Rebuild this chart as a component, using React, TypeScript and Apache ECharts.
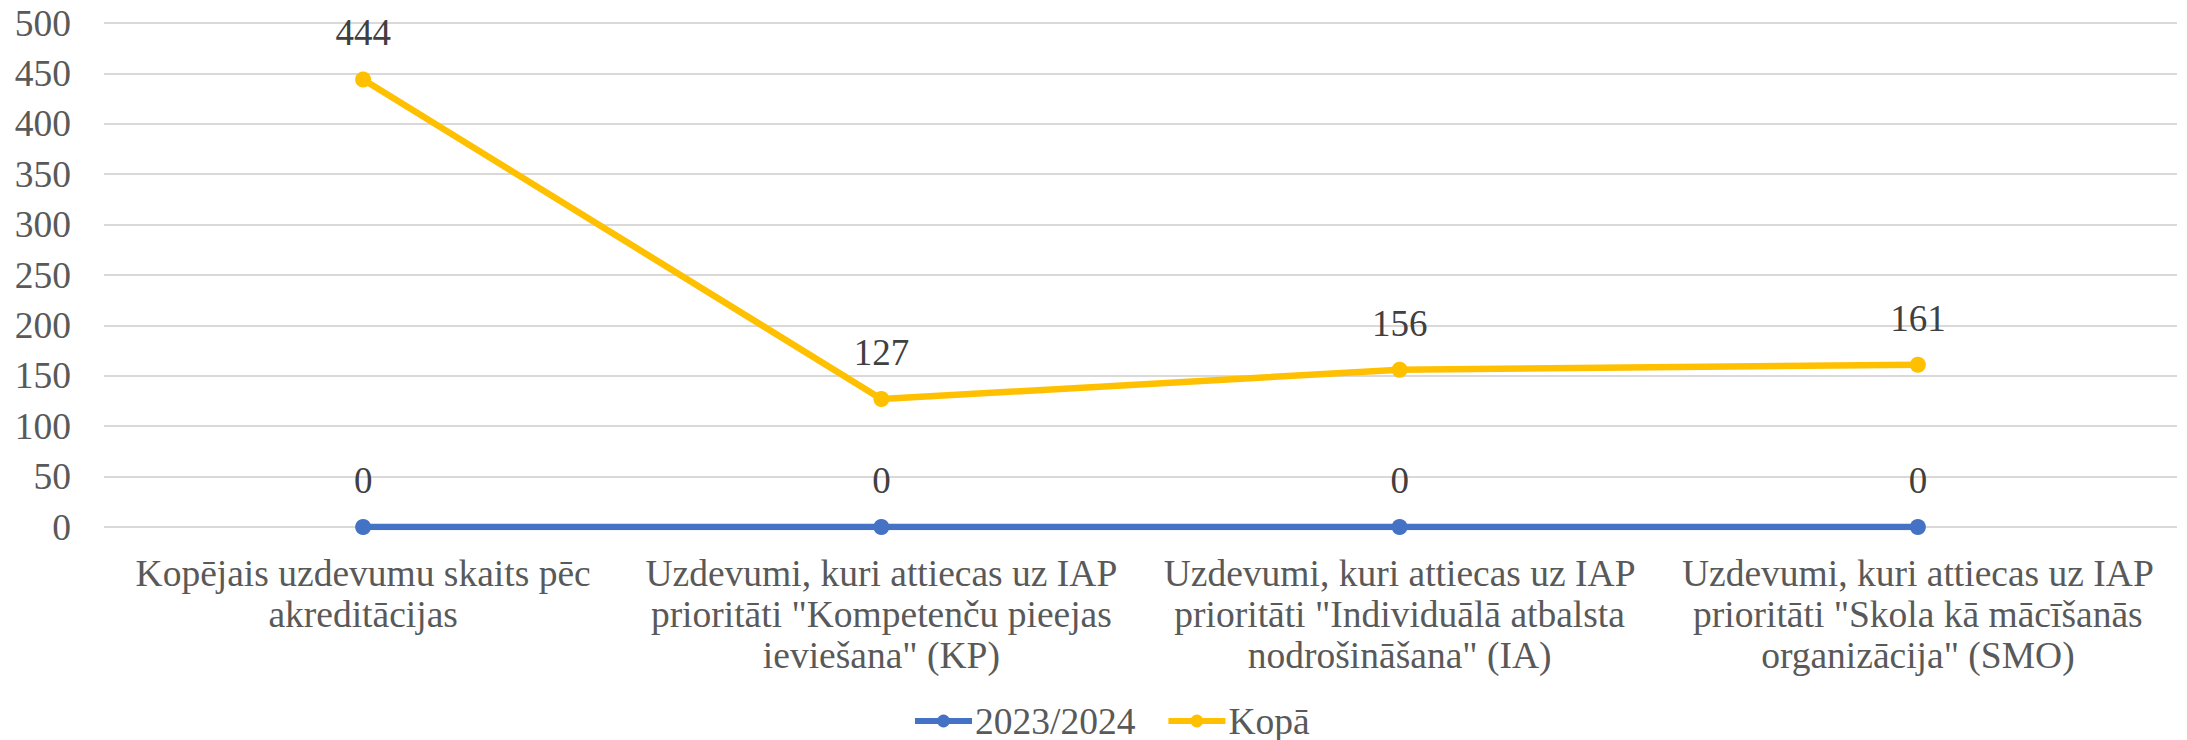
import React, { useEffect, useRef } from "react";
import * as echarts from "echarts";

const categories = [
  "Kopējais uzdevumu skaits pēc\nakreditācijas",
  "Uzdevumi, kuri attiecas uz IAP\nprioritāti \"Kompetenču pieejas\nieviešana\" (KP)",
  "Uzdevumi, kuri attiecas uz IAP\nprioritāti \"Individuālā atbalsta\nnodrošināšana\" (IA)",
  "Uzdevumi, kuri attiecas uz IAP\nprioritāti \"Skola kā mācīšanās\norganizācija\" (SMO)",
];
const series2023 = [0, 0, 0, 0];
const seriesTotal = [444, 127, 156, 161];
const seriesNames = ["2023/2024", "Kopā"];
const yMin = 0;
const yMax = 500;
const yInterval = 50;

const FONT = "Times New Roman, Liberation Serif, serif";

export default function App() {
  const ref = useRef<HTMLDivElement>(null);
  useEffect(() => {
    if (!ref.current) return;
    const chart = echarts.init(ref.current, null, { renderer: "svg" });
    const labelStyle = {
      show: true,
      position: "top" as const,
      distance: 20,
      color: "#404040",
      fontSize: 37,
      fontFamily: FONT,
    };
    chart.setOption({
      animation: false,
      backgroundColor: "#ffffff",
      textStyle: { fontFamily: FONT },
      grid: { left: 104, right: 10, top: 23, bottom: 213, containLabel: false },
      legend: {
        data: seriesNames,
        top: 702,
        left: 912,
        padding: 0,
        itemWidth: 57,
        itemHeight: 16,
        itemGap: 30,
        lineStyle: { width: 6 },
        textStyle: { color: "#595959", fontSize: 37.5, fontFamily: FONT, padding: [0, 0, 0, -2] },
      },
      xAxis: {
        type: "category",
        data: categories,
        boundaryGap: true,
        axisLine: { show: false },
        axisTick: { show: false },
        axisLabel: {
          interval: 0,
          margin: 26,
          color: "#595959",
          fontSize: 37.5,
          lineHeight: 41,
          fontFamily: FONT,
        },
      },
      yAxis: {
        type: "value",
        min: yMin,
        max: yMax,
        interval: yInterval,
        axisLine: { show: false },
        axisTick: { show: false },
        splitLine: { lineStyle: { color: "#d9d9d9", width: 2 } },
        axisLabel: { color: "#595959", fontSize: 37.5, fontFamily: FONT, margin: 33 },
      },
      series: [
        {
          name: seriesNames[0],
          type: "line",
          data: series2023,
          symbol: "circle",
          symbolSize: 16,
          itemStyle: { color: "#4472C4" },
          lineStyle: { color: "#4472C4", width: 6.5 },
          label: labelStyle,
        },
        {
          name: seriesNames[1],
          type: "line",
          data: seriesTotal,
          symbol: "circle",
          symbolSize: 16,
          itemStyle: { color: "#FFC000" },
          lineStyle: { color: "#FFC000", width: 6.5 },
          label: labelStyle,
        },
      ],
    });
    return () => chart.dispose();
  }, []);
  return (
    <div
      ref={ref}
      style={{ position: "fixed", left: 0, top: 0, width: 2187, height: 740, background: "#fff" }}
    />
  );
}
